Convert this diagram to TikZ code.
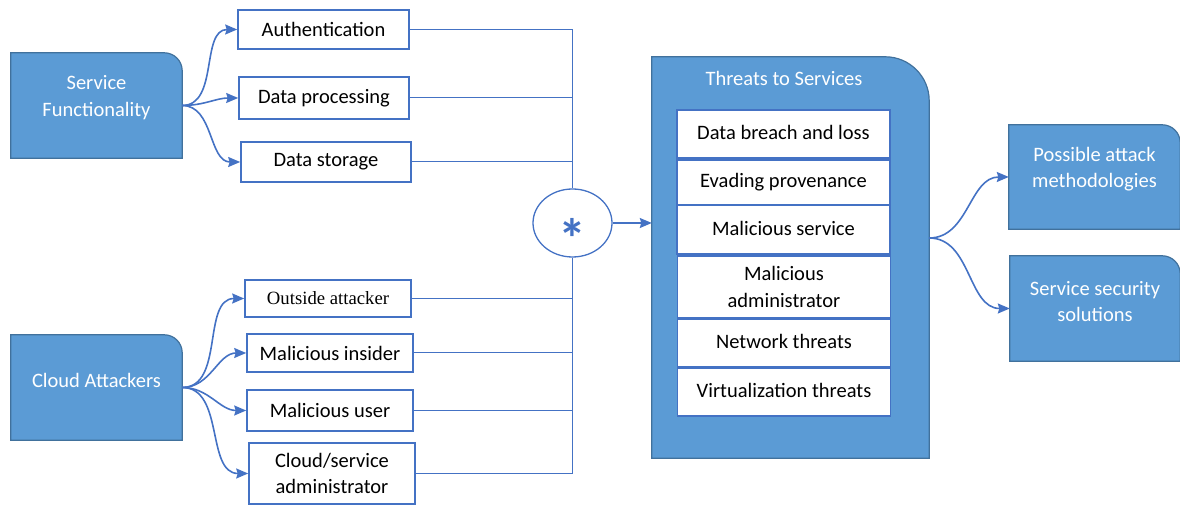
\documentclass[tikz,border=0pt]{standalone}
\usepackage{fontspec}
\setmainfont{Carlito}
\newfontfamily\serifface{Liberation Serif}
\usetikzlibrary{arrows.meta,calc,shapes.geometric}
\definecolor{boxfill}{RGB}{91,155,213}
\definecolor{boxedge}{RGB}{65,113,156}
\definecolor{linkblue}{RGB}{68,114,196}
% filled panel with a rounded top-right corner, drawn over a named geometry node
\newcommand\tabpanel[2]{%
  \draw[panel] (#1.south west) -- (#1.north west) -- ([xshift=-#2]#1.north east)
    arc[start angle=90,end angle=0,radius=#2] -- (#1.south east) -- cycle;}
\begin{document}
\begin{tikzpicture}[x=1pt,y=1pt,
  every node/.style={font=\fontsize{20.5}{26.5}\selectfont},
  geom/.style={draw=none,inner sep=0pt},
  panel/.style={fill=boxfill,draw=boxedge,line width=1.2pt},
  paneltext/.style={text=white,align=center,inner sep=0pt},
  item/.style={draw=linkblue,line width=1.6pt,fill=white,inner sep=0pt,align=center},
  arrowlink/.style={draw=linkblue,line width=1.6pt,-{Stealth[length=12pt,width=10pt,inset=1.5pt]}},
  bus/.style={draw=linkblue,line width=1pt}]
\useasboundingbox (0,0) rectangle (1180,505);

% ---- Service functionality group ----
\node[geom,minimum width=171pt,minimum height=105pt] (sf) at (96.5,399.5) {};
\tabpanel{sf}{18pt}
\node[paneltext] (sftext) at ($(sf)+(0,8)$) {Service\\Functionality};

\node[item,minimum width=171pt,minimum height=39pt] (auth) at (323.5,475.5) {Authentication};
\node[item,minimum width=170pt,minimum height=42pt] (dproc) at (324,407) {Data processing};
\node[item,minimum width=170pt,minimum height=40pt] (dstor) at (326,343) {Data storage};

\draw[arrowlink] (sf.east) to[out=0,in=180] (auth.west);
\draw[arrowlink] (sf.east) to[out=0,in=180] (dproc.west);
\draw[arrowlink] (sf.east) to[out=0,in=180] (dstor.west);

% ---- Cloud attackers group ----
\node[geom,minimum width=171pt,minimum height=105pt] (ca) at (96.5,117.5) {};
\tabpanel{ca}{18pt}
\node[paneltext] (catext) at ($(ca)+(0,7)$) {Cloud Attackers};

\node[item,minimum width=166pt,minimum height=37pt,font=\serifface\fontsize{18.7}{22}\selectfont] (outa) at (328,206.5) {Outside attacker};
\node[item,minimum width=166pt,minimum height=38pt] (mins) at (330,152) {Malicious insider};
\node[item,minimum width=166pt,minimum height=41pt] (muser) at (330,94.5) {Malicious user};
\node[item,minimum width=166pt,minimum height=61pt] (cadmin) at (332,31.5) {Cloud/service\\administrator};

\draw[arrowlink] (ca.east) to[out=0,in=180] (outa.west);
\draw[arrowlink] (ca.east) to[out=0,in=180] (mins.west);
\draw[arrowlink] (ca.east) to[out=0,in=180] (muser.west);
\draw[arrowlink] (ca.east) to[out=0,in=180] (cadmin.west);

% ---- combining operator ----
\node[ellipse,draw=linkblue,line width=1.3pt,minimum width=79pt,minimum height=68pt,inner sep=0pt] (ell) at (572.5,282) {};
\node[text=linkblue,font=\bfseries\fontsize{56}{56}\selectfont,inner sep=0pt] (star) at (572.5,267) {*};

\draw[bus] (auth.east) -| (ell.north);
\draw[bus] (dproc.east) -- (dproc.east -| ell.north);
\draw[bus] (dstor.east) -- (dstor.east -| ell.north);

\coordinate (busend) at (ell.south |- cadmin.east);
\draw[bus] (ell.south) -- (busend);
\draw[bus] (outa.east) -- (outa.east -| ell.south);
\draw[bus] (mins.east) -- (mins.east -| ell.south);
\draw[bus] (muser.east) -- (muser.east -| ell.south);
\draw[bus] (cadmin.east) -- (busend);

% ---- threats panel ----
\node[geom,minimum width=277pt,minimum height=401pt] (threats) at (790.5,247.5) {};
\tabpanel{threats}{44pt}
\node[paneltext] (threatstitle) at (784,427) {Threats to Services};

\node[item,minimum width=213pt,minimum height=48pt] (breach) at (783.5,371) {\raisebox{3pt}{Data breach and loss}};
\node[item,minimum width=213pt,minimum height=45pt] (evade) at (783.5,322.5) {\raisebox{1pt}{Evading provenance}};
\node[item,minimum width=213pt,minimum height=49pt] (mserv) at (783.5,275.5) {\raisebox{3pt}{Malicious service}};
\node[item,minimum width=213pt,minimum height=62pt] (madmin) at (784,218) {Malicious\\administrator};
\node[item,minimum width=213pt,minimum height=48pt] (netw) at (784,162) {\raisebox{3pt}{Network threats}};
\node[item,minimum width=213pt,minimum height=48pt] (virt) at (784,113) {\raisebox{3pt}{Virtualization threats}};

\draw[arrowlink] (ell.east) -- (ell.east -| threats.west);

% ---- outcomes ----
\node[geom,minimum width=171pt,minimum height=104pt] (pam) at (1094.5,328) {};
\tabpanel{pam}{18pt}
\node[paneltext] (pamtext) at ($(pam)+(0,8)$) {Possible attack\\methodologies};

\node[geom,minimum width=170pt,minimum height=105pt] (sss) at (1095,196.5) {};
\tabpanel{sss}{18pt}
\node[paneltext] (ssstext) at ($(sss)+(0,7)$) {Service security\\solutions};

\coordinate (tsrc) at ($(threats.east)+(0,19.5)$);
\draw[arrowlink] (tsrc) to[out=0,in=180] (pam.west);
\draw[arrowlink] (tsrc) to[out=0,in=180] (sss.west);
\end{tikzpicture}
\end{document}
